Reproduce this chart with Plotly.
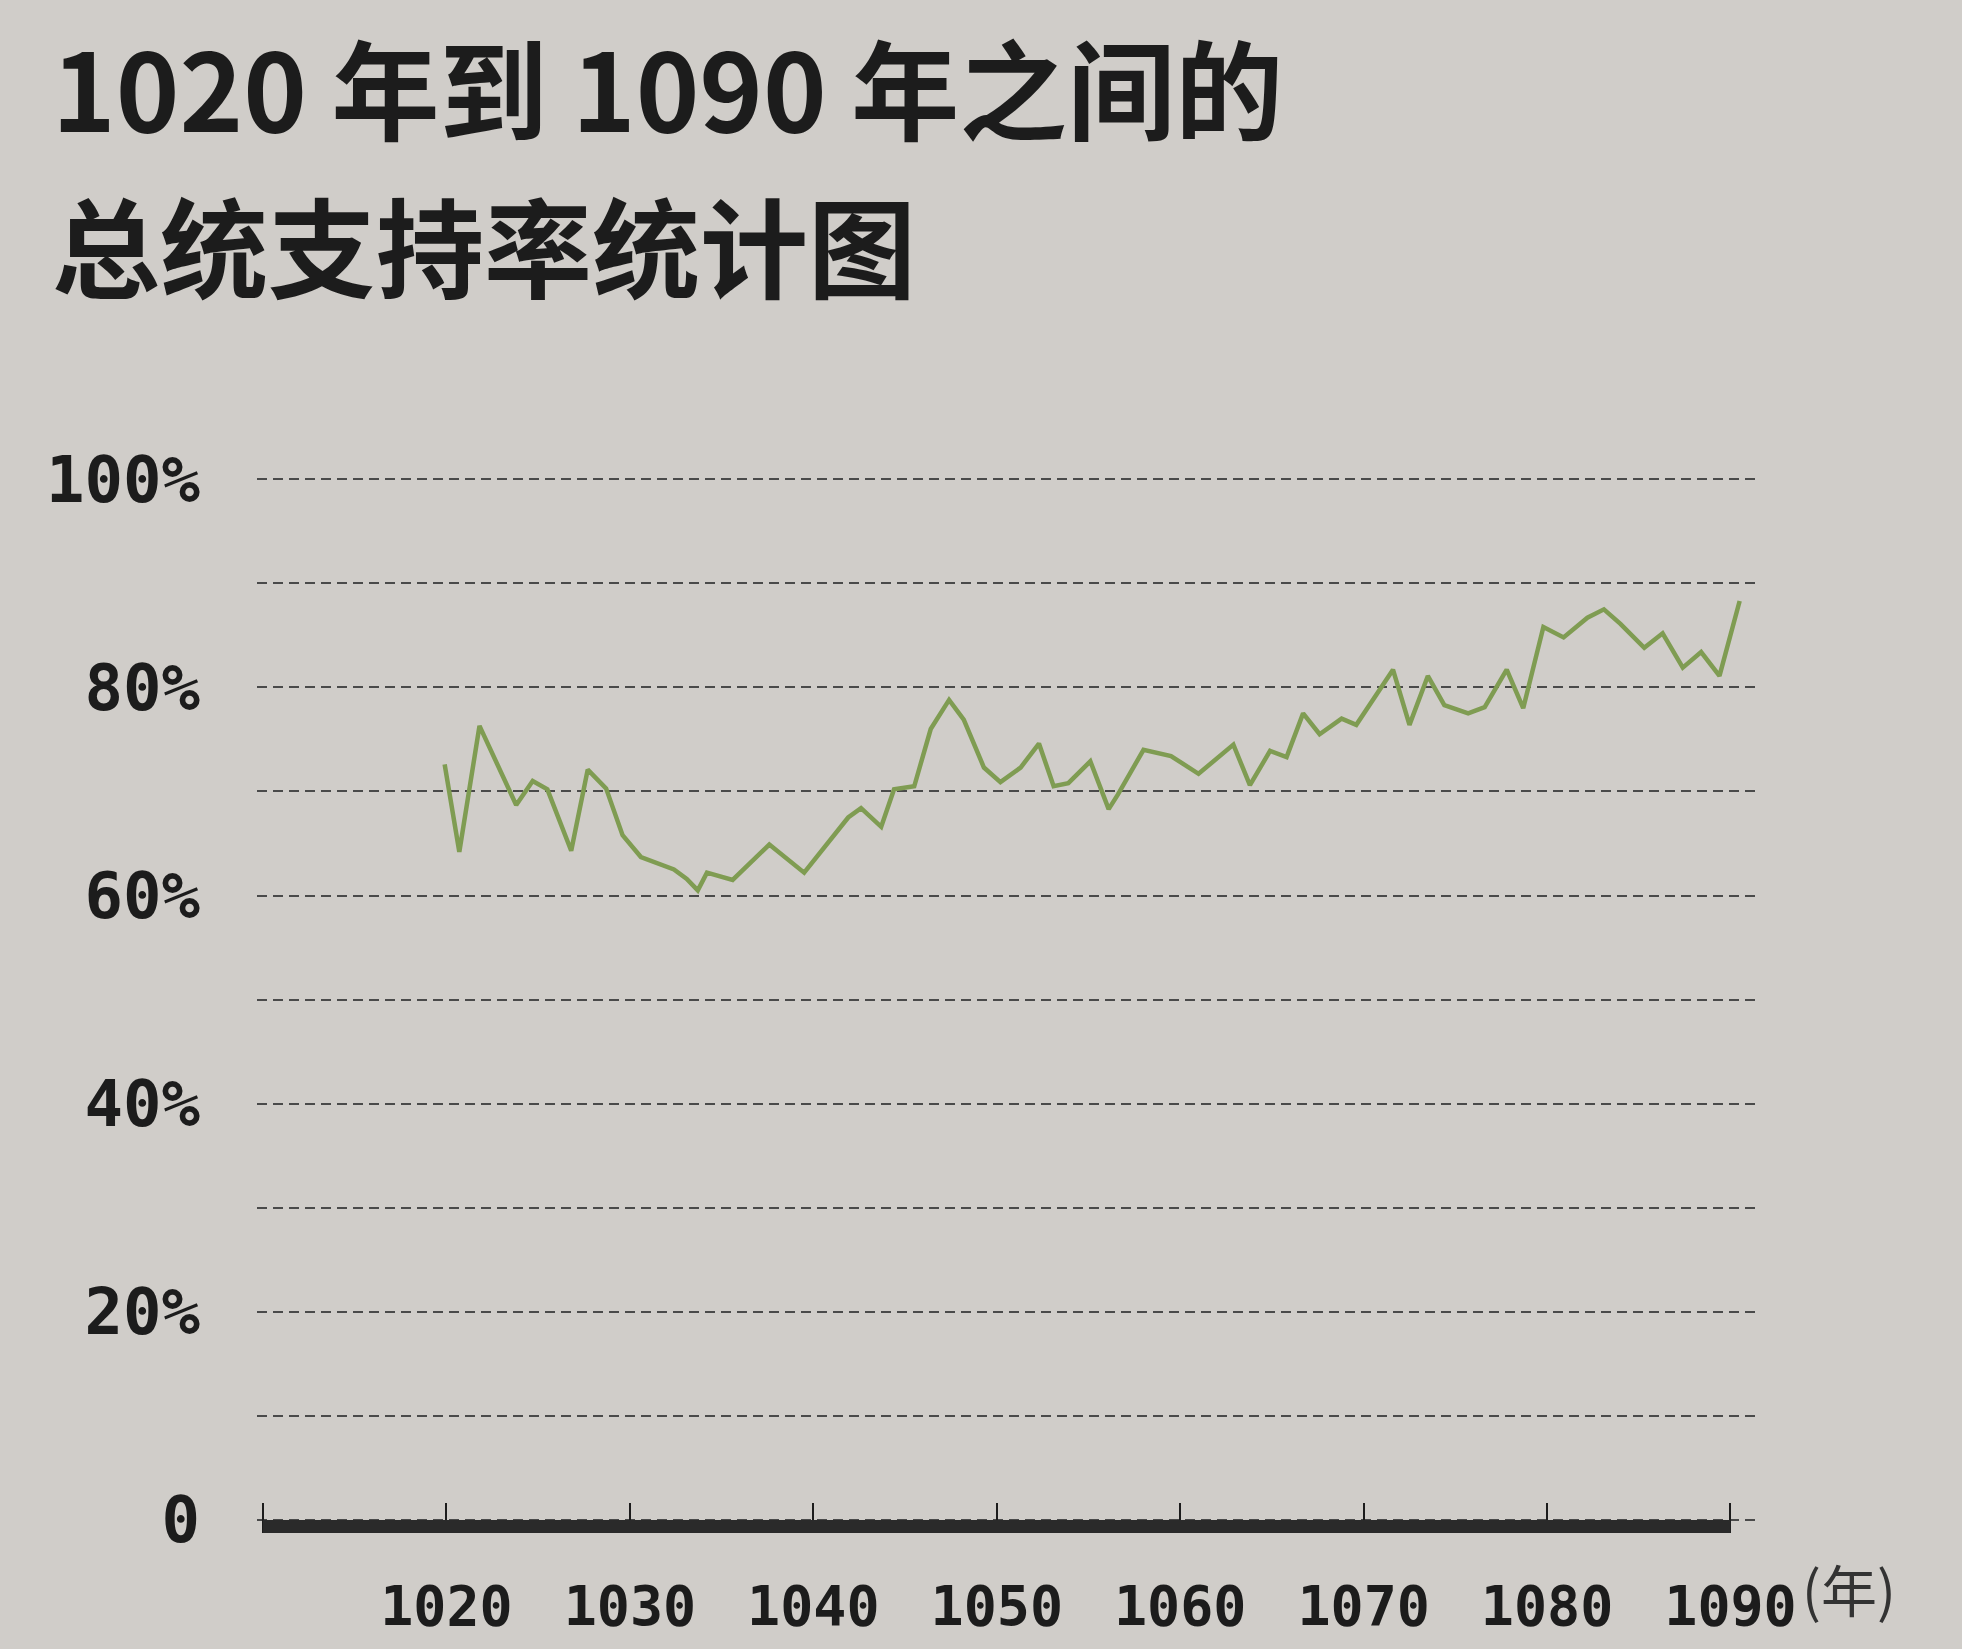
import plotly.graph_objects as go

title_line1 = "1020 年到 1090 年之间的"
title_line2 = "总统支持率统计图"

years = [1019.9, 1020.7, 1021.8, 1023.8, 1024.7, 1025.5, 1026.8, 1027.7, 1028.7, 1029.6,
         1030.6, 1032.4, 1033.1, 1033.7, 1034.2, 1035.6, 1037.6, 1039.5, 1041.9, 1042.6,
         1043.7, 1044.4, 1045.5, 1046.4, 1047.4, 1048.2, 1049.3, 1050.2, 1051.3, 1052.3,
         1053.1, 1053.9, 1055.1, 1056.1, 1056.6, 1058.0, 1059.5, 1061.0, 1062.9, 1063.8,
         1064.9, 1065.8, 1066.7, 1067.6, 1068.8, 1069.6, 1071.6, 1072.5, 1073.5, 1074.4,
         1075.7, 1076.6, 1077.8, 1078.7, 1079.8, 1080.9, 1082.2, 1083.1, 1084.0, 1085.3,
         1086.3, 1087.4, 1088.4, 1089.4, 1090.5]
approval = [72.6, 64.2, 76.3, 68.7, 71.0, 70.2, 64.3, 72.1, 70.3, 65.8,
            63.7, 62.5, 61.6, 60.5, 62.2, 61.5, 64.9, 62.2, 67.5, 68.4,
            66.6, 70.2, 70.5, 76.0, 78.8, 76.9, 72.3, 70.9, 72.3, 74.6,
            70.5, 70.8, 72.9, 68.3, 69.7, 74.0, 73.4, 71.7, 74.5, 70.6,
            73.9, 73.3, 77.5, 75.5, 77.0, 76.4, 81.7, 76.4, 81.1, 78.3,
            77.5, 78.1, 81.7, 78.0, 85.8, 84.8, 86.7, 87.5, 86.1, 83.8,
            85.2, 81.9, 83.4, 81.1, 88.3]

x_tickvals = [1010, 1020, 1030, 1040, 1050, 1060, 1070, 1080, 1090]
x_ticktext = ["", "1020", "1030", "1040", "1050", "1060", "1070", "1080", "1090"]
y_tickvals = [0, 20, 40, 60, 80, 100]
y_ticktext = ["0", "20%", "40%", "60%", "80%", "100%"]
x_unit = "(年)"

BG = "#d0cdc9"
INK = "#1c1c1c"
GRID = "#4a4a4a"
LINE = "#7f9c52"
MONO = "DejaVu Sans Mono"
CJK = "Noto Sans CJK SC"

# plot area in pixels: left 257, right 1758, top 473, bottom 1533
fig = go.Figure()
fig.add_trace(go.Scatter(x=years, y=approval, mode="lines",
                         line=dict(color=LINE, width=4.5), showlegend=False,
                         hoverinfo="skip"))

fig.update_layout(
    width=1962, height=1649,
    paper_bgcolor=BG, plot_bgcolor=BG,
    margin=dict(l=257, r=204, t=473, b=116),
    xaxis=dict(range=[1009.67, 1091.5], tickvals=x_tickvals, ticktext=x_ticktext,
               showgrid=False, zeroline=False, showline=False,
               ticks="inside", ticklen=30, tickwidth=2, tickcolor=INK,
               tickfont=dict(family=MONO, size=55, color=INK, weight="bold"),
               ticklabelstandoff=36),
    yaxis=dict(range=[-1.25, 100.6], tickvals=y_tickvals, ticktext=y_ticktext,
               showgrid=True, gridcolor=GRID, gridwidth=2.2, griddash="10px,6px",
               zeroline=False, showline=False, ticks="",
               tickfont=dict(family=MONO, size=64, color=INK, weight="bold"),
               ticklabelstandoff=56,
               minor=dict(dtick=10, tick0=0, showgrid=True, gridcolor=GRID,
                          gridwidth=2.2, griddash="10px,6px")),
)

fig.add_shape(type="rect", xref="x", yref="y", x0=1010, x1=1090, y0=-1.25, y1=0,
              fillcolor="#2a2a2a", line=dict(width=0), layer="above")

# title lines (pixel centres ~85 and ~243)
fig.add_annotation(text="<b>" + title_line1 + "</b>", xref="paper", yref="paper",
                   x=-0.138, y=(1533 - 85) / 1060, xanchor="left", yanchor="middle",
                   showarrow=False, font=dict(family=CJK, size=108, color=INK))
fig.add_annotation(text="<b>" + title_line2 + "</b>", xref="paper", yref="paper",
                   x=-0.138, y=(1533 - 243) / 1060, xanchor="left", yanchor="middle",
                   showarrow=False, font=dict(family=CJK, size=108, color=INK))
fig.add_annotation(text=x_unit, xref="paper", yref="paper", x=(1800 - 257) / 1501,
                   y=-0.051, xanchor="left", yanchor="middle", showarrow=False,
                   font=dict(family=CJK, size=56, color="#333333"))

fig.write_html("out.html")
